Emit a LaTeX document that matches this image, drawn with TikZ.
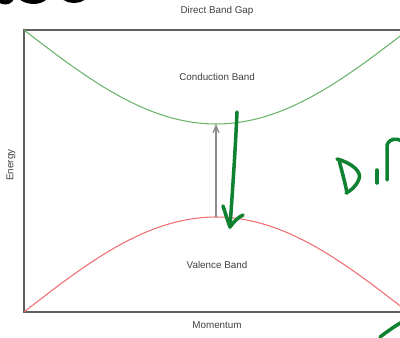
\documentclass[tikz,border=0pt]{standalone}
\usepackage{fontspec}
\setmainfont{Liberation Sans}
\usetikzlibrary{arrows.meta}
\definecolor{bandgreen}{RGB}{105,180,105}
\definecolor{bandred}{RGB}{240,110,115}
\definecolor{inkgreen}{RGB}{15,130,50}
\definecolor{framegray}{RGB}{95,95,95}
\definecolor{gaparrow}{RGB}{140,140,140}
\begin{document}
\begin{tikzpicture}[x=0.03cm,y=0.03cm,
  lbl/.style={font=\fontsize{8.4}{10}\selectfont, text=black!75},
  ink/.style={inkgreen, line width=3pt, line cap=round, line join=round}]
\clip (0,0) rectangle (400,337);
\fill[white] (0,0) rectangle (400,337);
% plot frame
\draw[framegray, line width=1.6pt] (24,307) rectangle (410,25);
% bands
\draw[bandgreen, line width=0.9pt] plot[domain=24:410, samples=90, smooth]
  (\x, {307-94*cos(0.46875*(\x-216))});
\draw[bandred, line width=0.9pt] plot[domain=24:410, samples=90, smooth]
  (\x, {25+95*cos(0.46875*(\x-216))});
\coordinate (cbot) at (216,213);
\coordinate (vtop) at (216,120);
\draw[gaparrow, line width=1.1pt, -{Straight Barb[length=6pt, width=5pt]}] (vtop) -- (cbot);
% labels
\node[lbl] (title) at (217,326) {Direct Band Gap};
\node[lbl] (cb) at (217,260) {Conduction Band};
\node[lbl] (vb) at (217,72) {Valence Band};
\node[lbl] (mom) at (217,12) {Momentum};
\node[lbl, rotate=90] (en) at (11,172) {Energy};
% hand-drawn marks
\draw[ink] (237,225) .. controls (235,180) and (232,140) .. (230,110);
\draw[ink] (223,131) .. controls (226,122) and (228,115) .. (230,110)
  .. controls (233,114) and (238,120) .. (243,122);
\draw[ink] (339,177) .. controls (342,165) and (345,155) .. (347,144);
\draw[ink] (337,178) .. controls (352,174) and (362,165) .. (359,158)
  .. controls (356,150) and (350,146) .. (346,144);
\draw[ink] (377,167) -- (377,154);
\draw[ink] (387,157) -- (387,192) .. controls (390,199) and (396,199) .. (402,196);
\draw[ink] (380,0) .. controls (388,6) and (395,11) .. (402,15);
\draw[black, line width=3.5pt, line cap=round] (0,336) .. controls (4,334) and (8,334) .. (11,337);
\draw[black, line width=3.5pt, line cap=round] (21,339) .. controls (28,334) and (38,334) .. (44,338);
\draw[black, line width=3.5pt, line cap=round] (64,339) .. controls (70,335) and (78,335) .. (84,339);
\end{tikzpicture}
\end{document}
